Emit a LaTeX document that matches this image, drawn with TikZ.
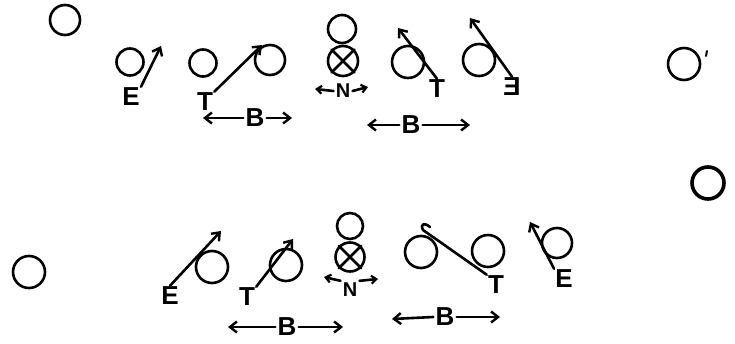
\documentclass[tikz,border=0pt]{standalone}
\usepackage{fontspec}
\setmainfont{Liberation Sans}
\usetikzlibrary{arrows.meta}
\begin{document}
\begin{tikzpicture}[x=1pt,y=-1pt,line width=2.6pt,line cap=round,line join=round,
  player/.style={circle,draw,line width=2.6pt,minimum size=30pt,inner sep=0pt},
  letter/.style={inner sep=0pt,font=\bfseries\fontsize{26}{26}\selectfont},
  bletter/.style={inner sep=1pt,font=\bfseries\fontsize{26}{26}\selectfont},
  nletter/.style={inner sep=1pt,font=\bfseries\fontsize{20}{20}\selectfont},
  route/.style={-{Straight Barb[length=7pt,width=11pt,line width=2.4pt]}},
  shortarrow/.style={-{Straight Barb[length=5pt,width=8pt,line width=2.2pt]}}]
\useasboundingbox (0,0) rectangle (735,343);

% ---------- top formation ----------
\node[player] (s1) at (65,20) {};
\node[player,minimum size=27pt] (e1c) at (130,62) {};
\node[letter] (e1) at (131,97) {E};
\coordinate (e1t) at (161,46);
\draw[route] (e1.north east) -- (e1t);

\node[player,minimum size=27pt] (t1c) at (203,63) {};
\node[letter] (t1) at (205,102) {T};
\coordinate (t1t) at (262,45);
\draw[route] (t1.north east) -- (t1t);
\node[player] (t1r) at (270,60) {};

\node[bletter] (b1) at (255,118) {B};
\coordinate (b1l) at (203,118);
\coordinate (b1r) at (292,118);
\draw[route] (b1.west) -- (b1l);
\draw[route] (b1.east) -- (b1r);

\node[player,minimum size=28pt] (c1a) at (342,29) {};
\node[player] (c1) at (343,61) {};
\draw (c1.north west) -- (c1.south east) (c1.north east) -- (c1.south west);
\node[nletter] (n1) at (343,91) {N};
\coordinate (n1l) at (315,89);
\coordinate (n1r) at (368,87);
\draw[shortarrow] (n1.west) -- (n1l);
\draw[shortarrow] (n1.east) -- (n1r);

\node[player,minimum size=32pt] (t2c) at (408,62) {};
\node[letter] (t2) at (437,89) {T};
\coordinate (t2t) at (398,28);
\draw[route] (t2.north) -- (t2t);

\node[player,minimum size=32pt] (e2c) at (479,60) {};
\node[letter] (e2) at (512,87) {\scalebox{-1}[1]{E}};
\coordinate (e2t) at (470,18);
\draw[route] (e2.north) -- (e2t);

\node[bletter] (b2) at (411,125) {B};
\coordinate (b2l) at (367,125);
\coordinate (b2r) at (470,125);
\draw[route] (b2.west) -- (b2l);
\draw[route] (b2.east) -- (b2r);

\node[player,minimum size=32pt] (r1) at (684,64) {};
\coordinate (tick1) at (707,51);
\coordinate (tick2) at (706,56);
\draw[line width=2pt] (tick1) -- (tick2);
\node[player,minimum size=32pt,line width=3.6pt] (r2) at (708,183) {};

% ---------- bottom formation ----------
\node[player,minimum size=32pt] (s2) at (29,272) {};

\node[letter] (e3) at (170,296) {E};
\coordinate (e3t) at (221,231);
\draw[route] (e3.north) -- (e3t);
\node[player,minimum size=32pt] (e3c) at (212,267) {};

\node[letter] (t3) at (247,297) {T};
\coordinate (t3t) at (293,239);
\draw[route] (t3.north east) -- (t3t);
\node[player,minimum size=32pt] (t3c) at (286,265) {};

\node[player,minimum size=26pt] (c2a) at (350,226) {};
\node[player,minimum size=29pt] (c2) at (350,257) {};
\draw (c2.north west) -- (c2.south east) (c2.north east) -- (c2.south west);
\node[nletter] (n2) at (350,290) {N};
\coordinate (n2l) at (324,277);
\coordinate (n2r) at (378,279);
\draw[shortarrow] (n2.north west) -- (n2l);
\draw[shortarrow] (n2.north east) -- (n2r);

\node[bletter] (b3) at (287,327) {B};
\coordinate (b3l) at (228,327);
\coordinate (b3r) at (343,327);
\draw[route] (b3.west) -- (b3l);
\draw[route] (b3.east) -- (b3r);

\node[player,minimum size=32pt] (g4) at (421,252) {};
\node[letter] (t4) at (496,285) {T};
\coordinate (t4e) at (423,230);
\coordinate (t4h) at (430,227);
\draw (t4.north west) -- (t4e) .. controls (420,224) and (424,222) .. (t4h);
\node[player,minimum size=32pt] (t4c) at (488,251) {};

\node[player,minimum size=30pt] (e4c) at (557,243) {};
\node[letter] (e4) at (564,279) {E};
\coordinate (e4t) at (530,222);
\draw[route] (e4.north west) -- (e4t);

\node[bletter] (b4) at (445,317) {B};
\coordinate (b4l) at (392,319);
\coordinate (b4r) at (500,317);
\draw[route] (b4.west) -- (b4l);
\draw[route] (b4.east) -- (b4r);
\end{tikzpicture}
\end{document}
